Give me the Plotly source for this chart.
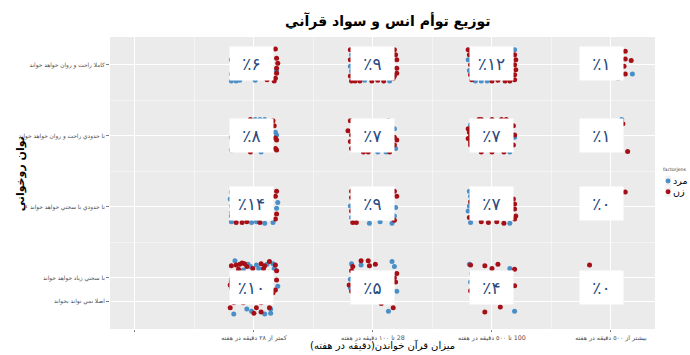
import plotly.graph_objects as go

# categories
x_labels = [
    "کمتر از ۲۸ دقيقه در هفته",
    "\u200f28 تا ۱۰۰ دقيقه در هفته",
    "\u200f100 تا ۵۰۰ دقيقه در هفته",
    "بيشتر از ۵۰۰ دقيقه در هفته",
]
x_pos = [1, 2, 3, 4]
y_labels = [
    "کاملا راحت و روان خواهد خواند",
    "تا حدودي راحت و روان خواهد خواند",
    "تا حدودي با سختي خواهد خواند",
    "با سختي زياد خواهد خواند",
    "اصلا نمي تواند بخواند",
]
y_pos = [4, 3, 2, 1, 0.67]

# percent per cell, rows top -> bottom, columns left -> right
pct = [
    [6, 9, 12, 1],
    [8, 7, 7, 1],
    [14, 9, 7, 0],
    [10, 5, 4, 0],
]
label_x = [0.98, 2.0, 3.0, 3.92]
label_y = [4.02, 3.0, 2.05, 0.87]

sexes = ["مرد", "زن"]

# jittered points: (column, row, dx, dy)
women = [
    (1, 4, -0.19, 0.07), (1, 4, 0.11, -0.21), (1, 4, 0.18, 0.22), (1, 4, 0.19, 0.09), (1, 4, 0.20, 0.02),
    (1, 4, 0.19, -0.05), (1, 4, 0.19, -0.12), (1, 4, 0.18, -0.19), (1, 4, 0.17, -0.23),
    (2, 4, -0.19, 0.21), (2, 4, -0.19, 0.07), (2, 4, -0.19, -0.16), (2, 4, -0.18, -0.23), (2, 4, -0.15, -0.23),
    (2, 4, -0.11, -0.23), (2, 4, -0.01, -0.23), (2, 4, 0.04, -0.22), (2, 4, 0.09, -0.23), (2, 4, 0.17, -0.19),
    (2, 4, 0.18, 0.21), (2, 4, 0.19, 0.14), (2, 4, 0.20, 0.07), (2, 4, 0.20, -0.05), (2, 4, 0.20, -0.12),
    (2, 4, 0.18, -0.16),
    (3, 4, -0.20, 0.21), (3, 4, -0.19, 0.14), (3, 4, -0.18, 0.00), (3, 4, -0.18, -0.14), (3, 4, -0.17, -0.21),
    (3, 4, 0.00, -0.23), (3, 4, 0.05, -0.22), (3, 4, 0.11, -0.23), (3, 4, 0.15, -0.23), (3, 4, 0.19, 0.14),
    (3, 4, 0.20, 0.07), (3, 4, 0.19, 0.00), (3, 4, 0.20, -0.07), (3, 4, 0.19, -0.14), (3, 4, 0.19, -0.21),
    (4, 4, 0.12, 0.19), (4, 4, 0.12, 0.08), (4, 4, 0.17, 0.06), (4, 4, 0.11, -0.02), (4, 4, 0.12, -0.13),
    (1, 3, -0.03, 0.23), (1, 3, 0.16, 0.21), (1, 3, 0.17, 0.14), (1, 3, 0.18, -0.03), (1, 3, 0.19, -0.06),
    (1, 3, 0.18, -0.18), (1, 3, 0.19, -0.20), (1, 3, -0.03, -0.23),
    (2, 3, -0.19, 0.21), (2, 3, -0.21, 0.07), (2, 3, -0.18, 0.01), (2, 3, -0.19, -0.08), (2, 3, -0.18, -0.18),
    (2, 3, -0.08, -0.23), (2, 3, -0.04, -0.23), (2, 3, 0.14, -0.23), (2, 3, 0.18, -0.02), (2, 3, 0.20, -0.06),
    (2, 3, 0.18, -0.13),
    (3, 3, -0.20, 0.10), (3, 3, -0.19, 0.05), (3, 3, -0.18, 0.00), (3, 3, -0.20, -0.04), (3, 3, -0.18, -0.09),
    (3, 3, -0.18, -0.13), (3, 3, -0.11, 0.23), (3, 3, -0.09, 0.23), (3, 3, 0.00, 0.23), (3, 3, 0.08, 0.23),
    (3, 3, 0.12, 0.23), (3, 3, -0.09, -0.23), (3, 3, 0.00, -0.23), (3, 3, 0.10, -0.23), (3, 3, 0.18, -0.13),
    (3, 3, 0.18, 0.14), (3, 3, 0.19, 0.01),
    (4, 3, 0.10, 0.17), (4, 3, 0.14, -0.22),
    (1, 2, -0.19, -0.13), (1, 2, -0.15, -0.22), (1, 2, -0.10, -0.22), (1, 2, -0.06, -0.21), (1, 2, 0.05, -0.22),
    (1, 2, 0.19, 0.22), (1, 2, 0.18, 0.15), (1, 2, 0.19, -0.10), (1, 2, 0.18, -0.17),
    (2, 2, -0.18, 0.22), (2, 2, -0.18, 0.13), (2, 2, -0.18, -0.06), (2, 2, -0.17, -0.22), (2, 2, -0.14, -0.22),
    (2, 2, 0.18, 0.22), (2, 2, 0.20, 0.15), (2, 2, 0.18, -0.19),
    (3, 2, -0.18, 0.07), (3, 2, -0.19, -0.15), (3, 2, -0.09, -0.21), (3, 2, -0.03, -0.22), (3, 2, 0.04, -0.21),
    (3, 2, 0.10, -0.23), (3, 2, 0.19, 0.04), (3, 2, 0.19, -0.03), (3, 2, 0.20, -0.13), (3, 2, 0.19, -0.17),
    (3, 2, 0.18, 0.11),
    (4, 2, 0.12, 0.21),
    (1, 1, -0.19, 0.17), (1, 1, -0.15, 0.18), (1, 1, -0.12, 0.19), (1, 1, -0.10, 0.21), (1, 1, -0.08, 0.20),
    (1, 1, -0.01, 0.13), (1, 1, 0.06, 0.20), (1, 1, 0.09, 0.17), (1, 1, 0.08, 0.13), (1, 1, 0.13, 0.23),
    (1, 1, 0.18, 0.18), (1, 1, 0.19, 0.10), (1, 1, -0.06, 0.16), (1, 1, -0.13, 0.12), (1, 1, -0.19, -0.06),
    (1, 1, -0.20, -0.10), (1, 1, 0.19, -0.03), (1, 1, 0.18, -0.17), (1, 1, 0.16, -0.21), (1, 1, -0.17, -0.35),
    (1, 1, -0.09, -0.35), (1, 1, 0.06, -0.35), (1, 1, -0.20, -0.42), (1, 1, 0.02, -0.42), (1, 1, 0.06, -0.48),
    (1, 1, 0.13, -0.42), (1, 1, 0.00, -0.50),
    (2, 1, -0.17, 0.16), (2, 1, -0.18, 0.10), (2, 1, -0.10, 0.24), (2, 1, -0.04, 0.24), (2, 1, -0.03, 0.17),
    (2, 1, 0.02, 0.19), (2, 1, 0.20, 0.06), (2, 1, 0.18, 0.00), (2, 1, 0.19, -0.06), (2, 1, -0.20, -0.10),
    (2, 1, -0.18, -0.19), (2, 1, 0.07, -0.36), (2, 1, 0.17, -0.42),
    (3, 1, -0.18, 0.18), (3, 1, -0.06, 0.17), (3, 1, 0.00, 0.13), (3, 1, 0.05, 0.19), (3, 1, 0.19, 0.12),
    (3, 1, -0.18, -0.18), (3, 1, 0.19, -0.11), (3, 1, -0.06, -0.48), (3, 1, 0.07, -0.41),
    (4, 1, -0.18, 0.18),
]
men = [
    (1, 4, -0.19, -0.13), (1, 4, -0.19, -0.23), (1, 4, -0.15, -0.23), (1, 4, -0.12, -0.22), (1, 4, 0.01, -0.22),
    (1, 4, 0.19, -0.09),
    (2, 4, -0.18, 0.14), (2, 4, -0.19, -0.02), (2, 4, -0.18, -0.09), (2, 4, -0.07, -0.22), (2, 4, 0.14, -0.23),
    (3, 4, -0.20, 0.07), (3, 4, -0.19, -0.08), (3, 4, -0.14, -0.23), (3, 4, -0.09, -0.23), (3, 4, -0.04, -0.23),
    (3, 4, 0.19, 0.21),
    (4, 4, 0.06, -0.19), (4, 4, 0.18, -0.13),
    (1, 3, -0.19, -0.02), (1, 3, -0.19, -0.20), (1, 3, 0.01, 0.23), (1, 3, 0.05, 0.23), (1, 3, 0.09, 0.23),
    (1, 3, 0.18, 0.05), (1, 3, 0.19, 0.01), (1, 3, 0.06, -0.23),
    (2, 3, 0.13, 0.21), (2, 3, 0.18, 0.10), (2, 3, 0.19, -0.18), (2, 3, 0.04, -0.23), (2, 3, 0.11, -0.23),
    (3, 3, -0.18, 0.15), (3, 3, 0.15, -0.23), (3, 3, 0.19, -0.02),
    (4, 3, 0.09, 0.23),
    (1, 2, -0.19, 0.21), (1, 2, -0.20, 0.11), (1, 2, -0.19, 0.01), (1, 2, -0.19, -0.08), (1, 2, -0.19, -0.21),
    (1, 2, -0.02, -0.22), (1, 2, 0.02, -0.21), (1, 2, 0.09, -0.23), (1, 2, 0.16, -0.22), (1, 2, 0.20, 0.06),
    (1, 2, 0.19, -0.02),
    (2, 2, -0.19, 0.01), (2, 2, -0.18, -0.15), (2, 2, -0.03, -0.23), (2, 2, 0.06, -0.21), (2, 2, 0.16, -0.23),
    (2, 2, 0.19, -0.01), (2, 2, 0.18, -0.13),
    (3, 2, -0.19, 0.22), (3, 2, -0.18, 0.15), (3, 2, -0.19, 0.01), (3, 2, -0.20, -0.06), (3, 2, -0.18, -0.22),
    (3, 2, 0.15, -0.23),
    (1, 1, -0.16, 0.24), (1, 1, -0.05, 0.19), (1, 1, -0.03, 0.16), (1, 1, 0.02, 0.18), (1, 1, 0.11, 0.19),
    (1, 1, 0.16, 0.20), (1, 1, 0.17, 0.13), (1, 1, 0.04, 0.13), (1, 1, -0.09, 0.11), (1, 1, -0.19, -0.02),
    (1, 1, -0.19, -0.14), (1, 1, 0.20, -0.12), (1, 1, -0.17, -0.51), (1, 1, -0.06, -0.44), (1, 1, -0.02, -0.47),
    (1, 1, 0.09, -0.51), (1, 1, 0.14, -0.50), (1, 1, 0.14, -0.44),
    (2, 1, -0.18, 0.20), (2, 1, -0.10, 0.18), (2, 1, 0.16, 0.23), (2, 1, 0.18, 0.16), (2, 1, 0.20, -0.19),
    (2, 1, -0.19, -0.14), (2, 1, -0.19, -0.02), (2, 1, 0.13, -0.47),
    (3, 1, -0.19, 0.19), (3, 1, -0.17, 0.06), (3, 1, -0.18, -0.06), (3, 1, 0.15, 0.13), (3, 1, 0.19, -0.47),
]

RED = "#a50f15"
BLUE = "#4a8fc7"
FONT = "DejaVu Sans"
FA_DIGITS = str.maketrans("0123456789", "۰۱۲۳۴۵۶۷۸۹")

fig = go.Figure()

for name, pts, color in [(sexes[0], men, BLUE), (sexes[1], women, RED)]:
    fig.add_trace(go.Scatter(
        x=[c + dx for c, r, dx, dy in pts],
        y=[r + dy for c, r, dx, dy in pts],
        mode="markers",
        name=name,
        showlegend=False,
        marker=dict(size=5, color=color, line=dict(width=0)),
    ))

# white percent labels on each cell
for i, row in enumerate(pct):
    for j, v in enumerate(row):
        fig.add_annotation(
            x=label_x[j], y=label_y[i],
            text="٪" + str(v).translate(FA_DIGITS),
            showarrow=False,
            bgcolor="white",
            width=41, height=31,
            font=dict(family=FONT, size=17, color="#2b4b80"),
        )

# axis titles
fig.add_annotation(
    x=0.5, y=0, xref="paper", yref="paper", yanchor="top", yshift=-9,
    text="ميزان قرآن خواندن(دقيقه در هفته)", showarrow=False, borderpad=0,
    font=dict(family=FONT, size=10, color="black"),
)
fig.add_annotation(
    x=-0.165, y=0.53, xref="paper", yref="paper", textangle=-90,
    xanchor="center", yanchor="middle",
    text="<b>توان روخواني</b>", showarrow=False,
    font=dict(family=FONT, size=11, color="black"),
)

# ggplot-style legend at the right, drawn by hand so it does not shrink the panel
fig.add_annotation(
    x=1.013, y=0.545, xref="paper", yref="paper", xanchor="left", yanchor="middle",
    text="factorjens", showarrow=False, borderpad=0,
    font=dict(family=FONT, size=4.6, color="#333333"),
)
for k, (name, color) in enumerate([(sexes[0], BLUE), (sexes[1], RED)]):
    yc = 0.507 - k * 0.037
    fig.add_shape(type="rect", xref="paper", yref="paper",
                  x0=1.018, x1=1.030, y0=yc - 0.018, y1=yc + 0.018,
                  fillcolor="#f2f2f2", line=dict(width=0))
    fig.add_shape(type="circle", xref="paper", yref="paper",
                  x0=1.0195, x1=1.0285, y0=yc - 0.0085, y1=yc + 0.0085,
                  fillcolor=color, line=dict(width=0))
    fig.add_annotation(
        x=1.032, y=yc, xref="paper", yref="paper", xanchor="left", yanchor="middle",
        text=name, showarrow=False, borderpad=0,
        font=dict(family=FONT, size=9.5, color="black"),
    )

fig.update_xaxes(
    range=[-0.21, 4.37], automargin=False,
    tickvals=[0] + x_pos, ticktext=[""] + x_labels,
    ticks="outside", ticklen=2, tickcolor="#7f7f7f",
    tickfont=dict(family=FONT, size=6.3, color="#4d4d4d"),
    showgrid=True, gridcolor="white", gridwidth=1.2, zeroline=False,
    minor=dict(tickvals=[0.5, 1.5, 2.5, 3.5], showgrid=True, gridcolor="#f4f4f4", gridwidth=0.6),
)
fig.update_yaxes(
    range=[0.28, 4.39], automargin=False,
    tickvals=y_pos, ticktext=y_labels,
    ticks="outside", ticklen=3, tickcolor="#7f7f7f",
    tickfont=dict(family=FONT, size=5.8, color="#4d4d4d"),
    showgrid=True, gridcolor="white", gridwidth=1.2, zeroline=False,
    minor=dict(tickvals=[1.5, 2.5, 3.5], showgrid=True, gridcolor="#f4f4f4", gridwidth=0.6),
)

fig.update_layout(
    width=690, height=355,
    margin=dict(l=110, r=35, t=37, b=26),
    paper_bgcolor="white", plot_bgcolor="#ebebeb",
    title=dict(
        text="<b>توزيع توأم انس و سواد قرآني</b>",
        x=0.562, xanchor="center", y=0.94, yanchor="middle",
        font=dict(family=FONT, size=14, color="black"),
    ),
    showlegend=False,
)

fig.write_html(
    "out.html",
    config={"displayModeBar": False},
    post_script="document.body.style.margin = '0px';",
)
